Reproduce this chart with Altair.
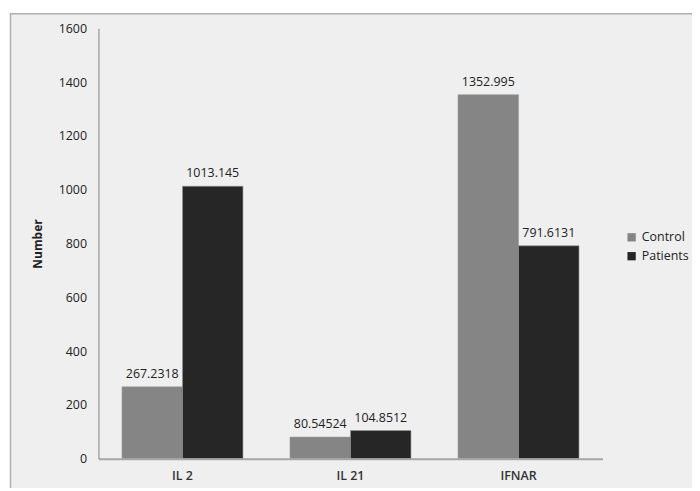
import altair as alt
import pandas as pd

categories = ["IL 2", "IL 21", "IFNAR"]
control = [267.2318, 80.54524, 1352.995]
patients = [1013.145, 104.8512, 791.6131]
control_labels = ["267.2318", "80.54524", "1352.995"]
patient_labels = ["1013.145", "104.8512", "791.6131"]
series = ["Control", "Patients"]
y_ticks = [0, 200, 400, 600, 800, 1000, 1200, 1400, 1600]

rows = []
for c, v, l in zip(categories, control, control_labels):
    rows.append({"cat": c, "series": "Control", "value": v, "label": l})
for c, v, l in zip(categories, patients, patient_labels):
    rows.append({"cat": c, "series": "Patients", "value": v, "label": l})
df = pd.DataFrame(rows)

FONT = "Open Sans"
FS = 12.5

x = alt.X("cat:N", sort=categories, title=None,
          scale=alt.Scale(paddingInner=0.28, paddingOuter=0.14),
          axis=alt.Axis(labelAngle=0, ticks=False, domainColor="#a6a6a6", domainWidth=2,
                        labelPadding=11, labelFontSize=FS, labelColor="#333333",
                        labelFont=FONT, labelFontWeight=600, zindex=1))
y = alt.Y("value:Q", title="Number",
          scale=alt.Scale(domain=[0, 1600], nice=False),
          axis=alt.Axis(values=y_ticks, format="d", grid=False, ticks=False, domainColor="#808080",
                        labelPadding=12, labelFontSize=FS, labelColor="#222222",
                        labelFont=FONT, titleFont=FONT, titleFontSize=12,
                        titleFontWeight="bold", titleColor="#222222", titlePadding=14,
                        zindex=1))
color = alt.Color("series:N", sort=series,
                  scale=alt.Scale(domain=series, range=["#858585", "#262626"]),
                  legend=alt.Legend(title=None, orient="none", legendX=530, legendY=204,
                                    symbolType="square", symbolSize=70, symbolStrokeWidth=0,
                                    labelFont=FONT, labelFontSize=FS, labelColor="#222222",
                                    rowPadding=6, labelOffset=4, zindex=1))
xo = alt.XOffset("series:N", sort=series)

frame = alt.Chart(pd.DataFrame({"f": [0]})).mark_rect(
    fill="#efefef", stroke="#b0b0b0", strokeWidth=1.5).encode(
    x=alt.value(-88.5), x2=alt.value(620), y=alt.value(-14.5), y2=alt.value(480))
bars = alt.Chart(df).mark_bar(stroke="#9a9a9a", strokeWidth=0.6).encode(
    x=x, y=y, color=color, xOffset=xo)
text = alt.Chart(df).mark_text(baseline="bottom", dy=-6, font=FONT, fontSize=FS,
                               color="#222222").encode(
    x=x, y=y, xOffset=xo, text="label:N")

chart = alt.layer(frame, bars, text).properties(
    width=507, height=433,
    autosize=alt.AutoSizeParams(type="none"),
    padding={"left": 91, "top": 19, "right": 90, "bottom": 28},
    background="#ffffff",
).configure_view(stroke=None)

chart.save("out.html", embed_options={"renderer": "svg", "actions": False})
